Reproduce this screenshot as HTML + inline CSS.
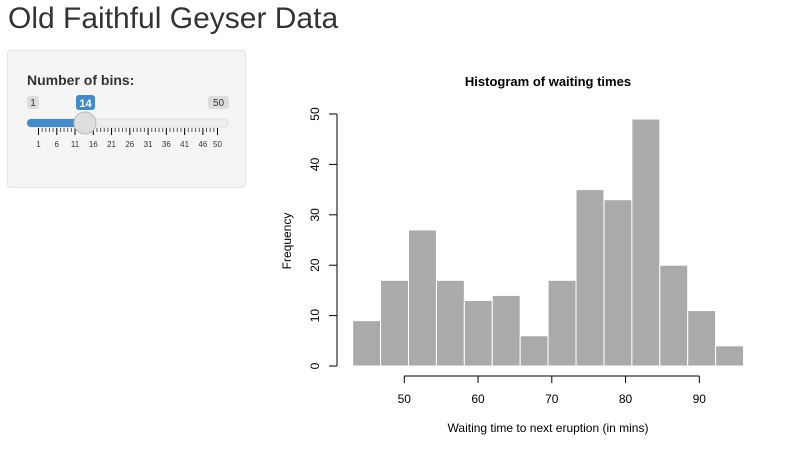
<!DOCTYPE html>
<html><head><meta charset="utf-8"><style>
body{margin:0;width:796px;height:450px;background:#fff;font-family:"Liberation Sans",sans-serif;position:relative;overflow:hidden}
#title{position:absolute;left:8px;top:2px;font-size:30px;color:#333;margin:0;font-weight:normal}
#panel{position:absolute;left:7px;top:50px;width:239px;height:138px;background:#f5f5f5;border:1px solid #e3e3e3;border-radius:4px;box-sizing:border-box}
</style></head><body>
<h1 id="title">Old Faithful Geyser Data</h1>
<div id="panel"></div>
<svg id="sl" width="796" height="450" style="position:absolute;left:0;top:0" font-family="Liberation Sans, sans-serif">
<text x="27" y="85" font-size="14" font-weight="bold" fill="#333">Number of bins:</text>
<rect x="27" y="96" width="12" height="13" rx="3" fill="#ddd"/><text x="33" y="106" font-size="10" fill="#333" text-anchor="middle">1</text>
<rect x="208" y="96" width="21" height="13" rx="3" fill="#ddd"/><text x="218.5" y="106" font-size="10" fill="#333" text-anchor="middle">50</text>
<rect x="76" y="95" width="19" height="15" rx="3" fill="#428bca"/><text x="85.5" y="107" font-size="11" font-weight="bold" fill="#fff" text-anchor="middle">14</text>
<rect x="27" y="119" width="201" height="8" rx="4" fill="#eee" stroke="#ddd"/>
<rect x="27" y="119" width="58" height="8" rx="4" fill="#428bca"/>
<g id="ticks"></g>
<circle cx="85" cy="123" r="11" fill="#dedede" stroke="#bbb"/>
</svg>
<svg id="chart" width="796" height="450" style="position:absolute;left:0;top:0" font-family="Liberation Sans, sans-serif"></svg>
<script>
// slider ticks
const tickLabels=[1,6,11,16,21,26,31,36,41,46,50];
const tg=document.getElementById('ticks');
const sx=v=>38.5+(v-1)*(179/49);
const NS='http://www.w3.org/2000/svg';
function mk(p,tag,a){const e=document.createElementNS(NS,tag);for(const k in a)e.setAttribute(k,a[k]);p.appendChild(e);return e;}
for(let v=1;v<=50;v++){const major=tickLabels.includes(v);mk(tg,'line',{x1:sx(v),x2:sx(v),y1:128,y2:major?135:132,stroke:major?'#000':'#555','stroke-width':1});}
tickLabels.forEach(v=>{const t=mk(tg,'text',{x:sx(v),y:147,'font-size':8,fill:'#333','text-anchor':'middle'});t.textContent=v;

});

// histogram data
const counts=[9,17,27,17,13,14,6,17,35,33,49,20,11,4];
const binStart=43.0, binEnd=96.0;
const xTicks=[50,60,70,80,90];
const yTicks=[0,10,20,30,40,50];
const X=v=>404.3+(v-50)*7.375;
const Y=v=>366-v*5.04;
const c=document.getElementById('chart');
const bw=(binEnd-binStart)/counts.length;
counts.forEach((n,i)=>{const r=mk(c,'rect',{x:X(binStart+i*bw),y:Y(n),width:X(binStart+(i+1)*bw)-X(binStart+i*bw),height:Y(0)-Y(n),fill:'#aaa',stroke:'#fff','stroke-width':1});

});
mk(c,'line',{x1:X(50),x2:X(90),y1:376,y2:376,stroke:'#000'});
xTicks.forEach(v=>{mk(c,'line',{x1:X(v),x2:X(v),y1:376,y2:383,stroke:'#000'});const t=mk(c,'text',{x:X(v),y:403,'font-size':12,'text-anchor':'middle',fill:'#000'});t.textContent=v;

});
mk(c,'line',{x1:337,x2:337,y1:Y(0),y2:Y(50),stroke:'#000'});
yTicks.forEach(v=>{mk(c,'line',{x1:329,x2:337,y1:Y(v),y2:Y(v),stroke:'#000'});const t=mk(c,'text',{x:319,y:Y(v),'font-size':12,'text-anchor':'middle',fill:'#000',transform:`rotate(-90 319 ${Y(v)})`});t.textContent=v;

});
let t=mk(c,'text',{x:548,y:86,'font-size':13,'font-weight':'bold','text-anchor':'middle'});t.textContent='Histogram of waiting times';


t=mk(c,'text',{x:548,y:432,'font-size':12,'text-anchor':'middle'});t.textContent='Waiting time to next eruption (in mins)';


t=mk(c,'text',{x:291,y:241,'font-size':12,'text-anchor':'middle',transform:'rotate(-90 291 241)'});t.textContent='Frequency';


</script>
</body></html>
